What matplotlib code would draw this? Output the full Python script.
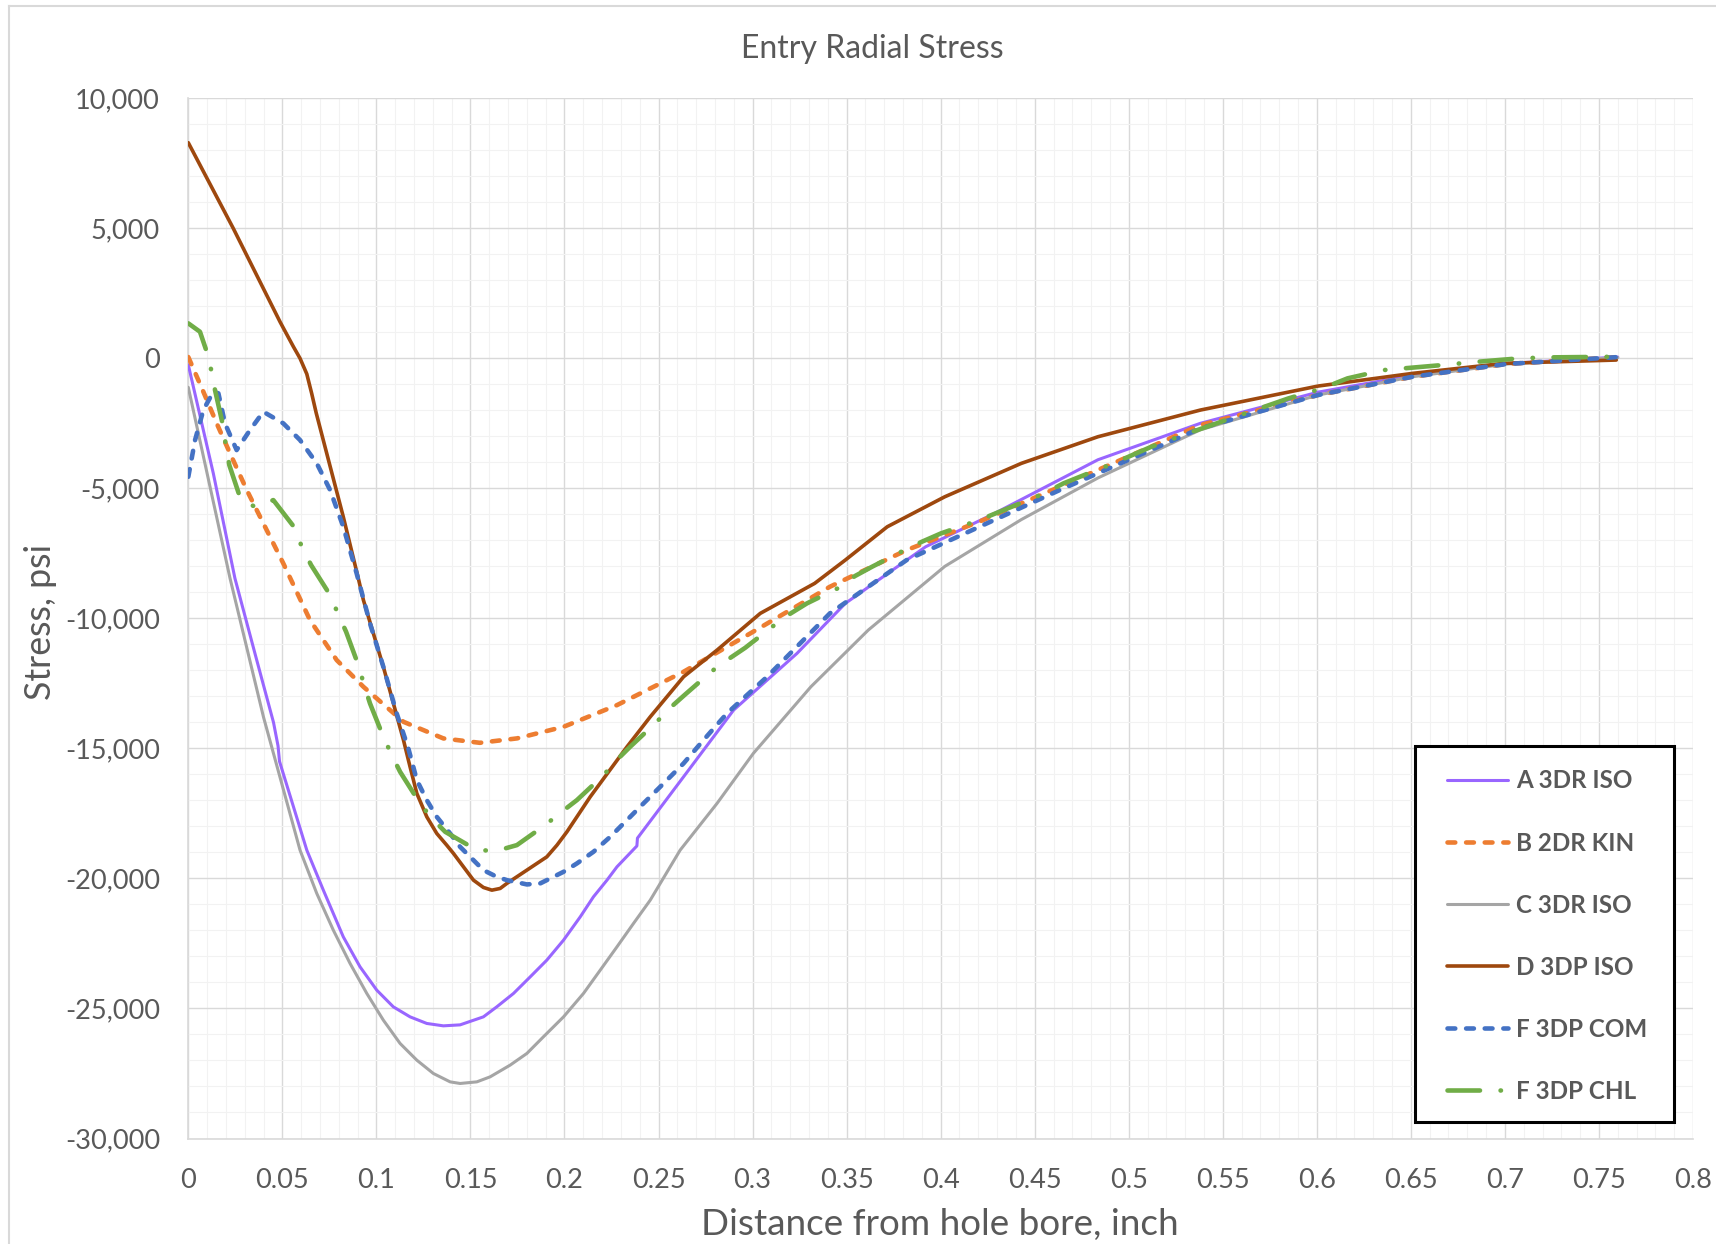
import matplotlib
matplotlib.use('Agg')
import matplotlib.pyplot as plt
from matplotlib.ticker import MultipleLocator
from matplotlib.patches import Rectangle
from matplotlib.lines import Line2D

plt.rcParams['font.family'] = ['Lato', 'DejaVu Sans']
plt.rcParams['lines.scale_dashes'] = False

# ---------------- data ----------------
title = 'Entry Radial Stress'
xlabel = 'Distance from hole bore, inch'
ylabel = 'Stress, psi'
series_names = ['A 3DR ISO', 'B 2DR KIN', 'C 3DR ISO', 'D 3DP ISO', 'F 3DP COM', 'F 3DP CHL']

xticks = [0, 0.05, 0.1, 0.15, 0.2, 0.25, 0.3, 0.35, 0.4, 0.45, 0.5, 0.55, 0.6, 0.65, 0.7, 0.75, 0.8]
xtick_labels = ['0', '0.05', '0.1', '0.15', '0.2', '0.25', '0.3', '0.35', '0.4', '0.45',
                '0.5', '0.55', '0.6', '0.65', '0.7', '0.75', '0.8']
yticks = [10000, 5000, 0, -5000, -10000, -15000, -20000, -25000, -30000]
ytick_labels = ['10,000', '5,000', '0', '-5,000', '-10,000', '-15,000', '-20,000', '-25,000', '-30,000']

a_x = [0.0, 0.0133, 0.0248, 0.036, 0.0453, 0.0477, 0.0485, 0.063, 0.0718, 0.0824, 0.0913, 0.1002,
       0.109, 0.1179, 0.1268, 0.1356, 0.1445, 0.1569, 0.164, 0.1729, 0.1818, 0.1906, 0.1995,
       0.2084, 0.2154, 0.2226, 0.2279, 0.2385, 0.2388, 0.2633, 0.2899, 0.3236, 0.3493, 0.392,
       0.4287, 0.4836, 0.538, 0.6006, 0.651, 0.7008, 0.76]
a_y = [-250, -4423, -8461, -11500, -14000, -14900, -15500, -18911, -20450, -22245, -23398, -24295,
       -24937, -25322, -25576, -25668, -25630, -25322, -24937, -24422, -23783, -23142, -22372,
       -21475, -20707, -20065, -19553, -18750, -18450, -16092, -13527, -11347, -9423, -7246,
       -5961, -3900, -2500, -1300, -650, -200, 50]

b_x = [0.0, 0.008, 0.0151, 0.0222, 0.0311, 0.0399, 0.0505, 0.0647, 0.0789, 0.0931, 0.1144, 0.1356,
       0.155, 0.1747, 0.1995, 0.2279, 0.2633, 0.2988, 0.3411, 0.3819, 0.4226, 0.4633, 0.538,
       0.6006, 0.651, 0.7008, 0.76]
b_y = [50, -1283, -2500, -3654, -5065, -6346, -7884, -10065, -11603, -12630, -13976, -14615,
       -14784, -14615, -14169, -13335, -12053, -10577, -8784, -7373, -6219, -4938, -2565,
       -1411, -707, -219, 50]

c_x = [0.0, 0.0222, 0.04, 0.0594, 0.0683, 0.0771, 0.086, 0.0949, 0.1037, 0.1126, 0.1215, 0.1303,
       0.1392, 0.1445, 0.1534, 0.1605, 0.1711, 0.18, 0.1888, 0.1995, 0.2101, 0.219, 0.2279,
       0.2367, 0.2456, 0.2615, 0.2811, 0.3004, 0.331, 0.3615, 0.4022, 0.4429, 0.4836, 0.538,
       0.6006, 0.651, 0.7008, 0.76]
c_y = [-1115, -8461, -13800, -18911, -20576, -21988, -23268, -24422, -25449, -26345, -26988, -27500,
       -27822, -27884, -27822, -27628, -27179, -26730, -26090, -25322, -24422, -23527, -22630,
       -21730, -20834, -18911, -17115, -15192, -12630, -10450, -8000, -6200, -4600, -2750,
       -1411, -707, -219, 30]

d_x = [0.0, 0.0239, 0.0488, 0.0514, 0.0559, 0.0594, 0.063, 0.0656, 0.068, 0.0736, 0.0824,
       0.0904, 0.0931, 0.1037, 0.1144, 0.1179, 0.1215, 0.1268, 0.1321, 0.1374, 0.141, 0.1463,
       0.1516, 0.1569, 0.1614, 0.1658, 0.1694, 0.18, 0.1906, 0.196, 0.2013, 0.2137, 0.2332,
       0.2456, 0.2633, 0.2811, 0.3041, 0.333, 0.3493, 0.3716, 0.4022, 0.4429, 0.4836, 0.5381,
       0.6006, 0.651, 0.6995, 0.7592]
d_y = [8292, 5000, 1400, 1050, 446, 0, -600, -1350, -2100, -3654, -6092,
       -8461, -9296, -11861, -14680, -15707, -16730, -17630, -18270, -18720, -19040, -19553,
       -20065, -20346, -20450, -20385, -20190, -19680, -19170, -18720, -18207, -16860, -14940,
       -13785, -12246, -11220, -9807, -8654, -7757, -6477, -5323, -4038, -3015, -1988,
       -1066, -577, -192, -65]

e_x = [0.0, 0.0036, 0.008, 0.0133, 0.016, 0.0195, 0.0257, 0.0328, 0.0399, 0.0505, 0.0594, 0.0683,
       0.0754, 0.0824, 0.0895, 0.0966, 0.1037, 0.1108, 0.117, 0.1215, 0.1268, 0.1321, 0.1392,
       0.1445, 0.1516, 0.1569, 0.164, 0.1694, 0.18, 0.1871, 0.1995, 0.2066, 0.2154, 0.2243,
       0.2332, 0.242, 0.2527, 0.2633, 0.2739, 0.2864, 0.297, 0.3077, 0.3411, 0.3819, 0.4226,
       0.4633, 0.538, 0.6006, 0.651, 0.7008, 0.763]
e_y = [-4554, -3142, -1988, -1283, -1346, -2500, -3527, -2757, -2054, -2500, -3142, -4038,
       -5065, -6477, -8269, -10192, -11861, -13653, -15000, -16219, -16988, -17630, -18270,
       -18784, -19296, -19680, -19937, -20065, -20230, -20191, -19745, -19423, -18976, -18400,
       -17757, -17115, -16346, -15577, -14680, -13653, -12950, -12246, -9807, -7757, -6411,
       -5065, -2692, -1411, -707, -219, 62]

f_x = [0.0, 0.0062, 0.0098, 0.0124, 0.0142, 0.0186, 0.02, 0.0218, 0.028, 0.0355, 0.0452, 0.0568,
       0.0603, 0.0653, 0.0754, 0.0795, 0.0839, 0.0904, 0.0935, 0.0966, 0.1037, 0.1082, 0.1126,
       0.1232, 0.1295, 0.1366, 0.1534, 0.164, 0.1747, 0.1897, 0.1981, 0.2066, 0.2208, 0.2274,
       0.2349, 0.2491, 0.2562, 0.2642, 0.2784, 0.2872, 0.2961, 0.3116, 0.3197, 0.3289, 0.3452,
       0.3544, 0.3635, 0.3808, 0.39, 0.4002, 0.4205, 0.4378, 0.4551, 0.4653, 0.4918, 0.512,
       0.5314, 0.585, 0.603, 0.6163, 0.6357, 0.667, 0.686, 0.7075, 0.7242, 0.763]
f_y = [1346, 1023, 254, -515, -1219, -2630, -3373, -4104, -5450, -5707, -5450, -6538,
       -7246, -7950, -9103, -9807, -10515, -11796, -12565, -13269, -14553, -15257, -15899,
       -17115, -17692, -18207, -18911, -18937, -18718, -17949, -17461, -16988, -16026, -15476,
       -14938, -13976, -13438, -12923, -12026, -11565, -11130, -10257, -9834, -9423, -8846,
       -8373, -8015, -7373, -7053, -6730, -6219, -5707, -5192, -4807, -4038, -3400,
       -2885, -1538, -1154, -770, -450, -256, -128, 0, 38, 64]

series_x = [a_x, b_x, c_x, d_x, e_x, f_x]
series_y = [a_y, b_y, c_y, d_y, e_y, f_y]

# ---------------- styles ----------------
styles = [
    dict(color='#9966FF', lw=2.2),
    dict(color='#ED7D31', lw=3.3, dashes=(5.6, 7.8)),
    dict(color='#A5A5A5', lw=2.2),
    dict(color='#9E480E', lw=2.6),
    dict(color='#4472C4', lw=3.3, dashes=(5.6, 7.8)),
    dict(color='#70AD47', lw=3.3, dashes=(23.4, 14.8, 0.3, 14.8)),
]
TXT = '#595959'
GRID = '#D9D9D9'
MINOR = '#F2F2F2'

W, H = 1716, 1244
fig = plt.figure(figsize=(W / 100, H / 100), dpi=100)
fig.patch.set_facecolor('white')

# chart area border (left and top visible)
fig.add_artist(Line2D([9 / W, 9 / W], [0, 1 - 5.5 / H], transform=fig.transFigure, color=GRID, lw=1.5))
fig.add_artist(Line2D([9 / W, 1], [1 - 5.5 / H, 1 - 5.5 / H], transform=fig.transFigure, color=GRID, lw=1.5))

L, R, T, B = 188.3, 1693.0, 98.3, 1138.5
ax = fig.add_axes([L / W, 1 - B / H, (R - L) / W, (B - T) / H])
ax.set_xlim(0, 0.8)
ax.set_ylim(-30000, 10000)
ax.set_xticks(xticks, xtick_labels)
ax.set_yticks(yticks, ytick_labels)
ax.xaxis.set_minor_locator(MultipleLocator(0.01))
ax.yaxis.set_minor_locator(MultipleLocator(1000))
ax.grid(which='major', color=GRID, lw=1.0)
ax.grid(which='minor', color=MINOR, lw=0.8)
ax.set_axisbelow(True)
ax.tick_params(which='both', length=0, colors=TXT)
for s in ['top', 'right']:
    ax.spines[s].set_visible(False)
for s in ['left', 'bottom']:
    ax.spines[s].set_color(GRID)
    ax.spines[s].set_linewidth(1.2)

lines = []
for x, y, st in zip(series_x, series_y, styles):
    kw = dict(color=st['color'], lw=st['lw'], solid_capstyle='round', dash_capstyle='round',
              solid_joinstyle='round', dash_joinstyle='round', zorder=3)
    ln, = ax.plot(x, y, **kw)
    if 'dashes' in st:
        ln.set_dashes(st['dashes'])
    lines.append(ln)

fig.canvas.draw()
r = fig.canvas.get_renderer()


def fit(t, target, dim='w'):
    bb = t.get_window_extent(r)
    cur = bb.width if dim == 'w' else bb.height
    t.set_fontsize(t.get_fontsize() * target / cur)


# tick labels: fit "10,000" to ~85 px
ax.tick_params(axis='both', labelsize=18)
fig.canvas.draw()
lab = [t for t in ax.get_yticklabels() if t.get_text() == '10,000'][0]
ts = 18 * 85 / lab.get_window_extent(r).width
ax.tick_params(axis='both', labelsize=ts)
fig.canvas.draw()
ax.tick_params(axis='y', pad=(L - 160) * 0.72)
xl = ax.get_xticklabels()[1]
hx = xl.get_window_extent(r).height
ax.tick_params(axis='x', pad=((1180 - hx / 2) - B) * 0.72)

t_title = fig.text(872 / W, 1 - 49 / H, title, ha='center', va='center', color=TXT, fontsize=20)
fit(t_title, 263)
t_x = fig.text(940 / W, 1 - 1225 / H, xlabel, ha='center', va='center', color=TXT, fontsize=28)
fit(t_x, 479)
t_y = fig.text(40.5 / W, 1 - 568 * 1.0944 / H, ylabel, ha='center', va='center', rotation=90,
               color=TXT, fontsize=28)
fit(t_y, 157, 'h')

# legend frame
ax.add_patch(Rectangle((1415 / W, 1 - 1122 / H), 259 / W, 376 / H, transform=fig.transFigure,
                       facecolor='white', edgecolor='black', lw=2.2, zorder=4.5, clip_on=False))

fsL = 17.0
ls = 1.5
anchor_top = 778 - 14
for it in range(4):
    fs_px = fsL * 100 / 72
    leg = ax.legend(lines, series_names, loc='upper left',
                    bbox_to_anchor=(1446.5 / W, 1 - anchor_top / H), bbox_transform=fig.transFigure,
                    frameon=False, borderpad=0, borderaxespad=0,
                    handlelength=61 / fs_px, handletextpad=9 / fs_px, labelspacing=ls,
                    prop=dict(family=['Lato', 'DejaVu Sans'], weight='bold', size=fsL))
    leg.set_zorder(6)
    for t in leg.get_texts():
        t.set_color(TXT)
    fig.canvas.draw()
    ex = [t.get_window_extent(r) for t in leg.get_texts()]
    wcom = ex[4].width
    c0 = H - (ex[0].y0 + ex[0].y1) / 2
    c5 = H - (ex[5].y0 + ex[5].y1) / 2
    sp = (c5 - c0) / 5
    fsL *= 130 / wcom
    ls += (62 - sp) / fs_px
    anchor_top += 781 - c0

fig.savefig('out.png', dpi=100)
